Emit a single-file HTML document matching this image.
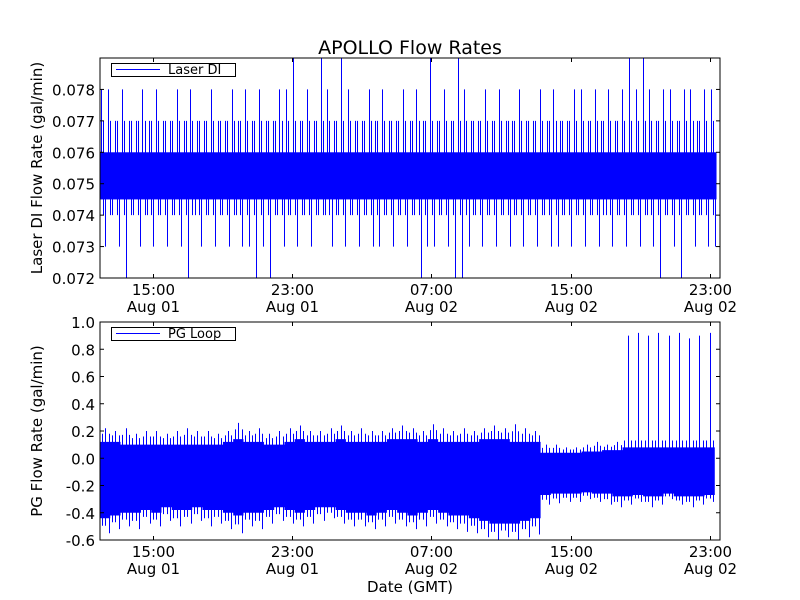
<!DOCTYPE html>
<html><head><meta charset="utf-8"><style>
body{margin:0;background:#fff}
svg{display:block;font-family:"DejaVu Sans","Liberation Sans",sans-serif}
</style></head><body>
<svg id="chart" width="800" height="600" viewBox="0 0 800 600" xmlns="http://www.w3.org/2000/svg">
<rect width="800" height="600" fill="#fff"/>
<text x="410" y="54" font-size="19" text-anchor="middle">APOLLO Flow Rates</text>
<text x="410" y="592" font-size="15" text-anchor="middle">Date (GMT)</text>
<g id="top"></g><g id="bot"></g>
</svg>
<script>
// time range (hours since Aug 01 00:00)
const tStart = 11.95, tEnd = 47.58;
const xTickHours = [15, 23, 31, 39, 47];
const xTickTimes = ["15:00","23:00","07:00","15:00","23:00"];
const xTickDates = ["Aug 01","Aug 01","Aug 02","Aug 02","Aug 02"];
// top panel: Laser DI — per-bin spike max / min (90 bins)
const laserHi = [0.078,0.078,0.077,0.078,0.077,0.077,0.078,0.077,0.078,0.077,0.077,0.078,0.077,0.078,0.077,0.077,0.078,0.077,0.077,0.078,0.077,0.078,0.077,0.078,0.077,0.077,0.078,0.078,0.079,0.077,0.078,0.077,0.079,0.078,0.077,0.079,0.078,0.077,0.077,0.078,0.077,0.078,0.077,0.077,0.078,0.077,0.078,0.077,0.079,0.077,0.078,0.077,0.079,0.078,0.077,0.077,0.078,0.077,0.078,0.077,0.077,0.078,0.077,0.077,0.078,0.077,0.078,0.077,0.077,0.078,0.078,0.077,0.078,0.077,0.078,0.077,0.078,0.079,0.078,0.079,0.078,0.077,0.078,0.078,0.077,0.078,0.078,0.077,0.078,0.078];
const laserLo = [0.073,0.074,0.073,0.072,0.074,0.073,0.074,0.073,0.074,0.073,0.074,0.073,0.072,0.074,0.073,0.074,0.073,0.074,0.073,0.074,0.073,0.073,0.072,0.073,0.072,0.074,0.073,0.074,0.073,0.074,0.073,0.074,0.074,0.073,0.074,0.073,0.074,0.073,0.074,0.073,0.073,0.074,0.073,0.074,0.073,0.074,0.072,0.073,0.073,0.074,0.073,0.072,0.072,0.073,0.074,0.073,0.074,0.073,0.074,0.073,0.074,0.073,0.074,0.073,0.074,0.073,0.073,0.074,0.073,0.074,0.073,0.074,0.073,0.074,0.073,0.074,0.073,0.074,0.073,0.074,0.073,0.072,0.074,0.073,0.072,0.074,0.073,0.074,0.073,0.073];
const laserBand = [0.0745, 0.0760];
// bottom panel: PG Loop — per-bin spike max / min and dense band (60 bins)
const pgHi = [0.22,0.2,0.22,0.18,0.2,0.2,0.18,0.2,0.22,0.2,0.2,0.18,0.2,0.26,0.2,0.22,0.18,0.2,0.22,0.24,0.2,0.2,0.22,0.24,0.2,0.22,0.2,0.2,0.22,0.24,0.22,0.2,0.25,0.22,0.2,0.22,0.2,0.22,0.24,0.22,0.25,0.22,0.2,0.1,0.1,0.08,0.08,0.1,0.12,0.1,0.12,0.9,0.92,0.9,0.92,0.9,0.92,0.88,0.9,0.92];
const pgLo = [-0.55,-0.52,-0.5,-0.52,-0.48,-0.5,-0.46,-0.5,-0.48,-0.46,-0.5,-0.48,-0.52,-0.55,-0.5,-0.52,-0.48,-0.46,-0.48,-0.5,-0.48,-0.46,-0.44,-0.48,-0.5,-0.5,-0.52,-0.5,-0.48,-0.5,-0.52,-0.5,-0.48,-0.5,-0.52,-0.54,-0.55,-0.58,-0.6,-0.58,-0.6,-0.58,-0.56,-0.34,-0.33,-0.32,-0.32,-0.3,-0.32,-0.34,-0.36,-0.34,-0.32,-0.36,-0.34,-0.3,-0.34,-0.36,-0.34,-0.32];
const pgBandHi = [0.12,0.12,0.1,0.1,0.1,0.1,0.1,0.1,0.1,0.1,0.1,0.1,0.12,0.14,0.12,0.12,0.1,0.1,0.12,0.14,0.12,0.12,0.12,0.14,0.12,0.12,0.12,0.12,0.14,0.14,0.14,0.12,0.14,0.12,0.12,0.12,0.12,0.14,0.14,0.14,0.12,0.12,0.12,0.04,0.04,0.04,0.04,0.05,0.05,0.06,0.06,0.08,0.08,0.08,0.08,0.08,0.08,0.08,0.08,0.08];
const pgBandLo = [-0.44,-0.42,-0.4,-0.4,-0.38,-0.4,-0.36,-0.38,-0.38,-0.36,-0.38,-0.38,-0.4,-0.42,-0.4,-0.4,-0.38,-0.36,-0.38,-0.4,-0.38,-0.36,-0.36,-0.38,-0.4,-0.4,-0.42,-0.4,-0.38,-0.4,-0.42,-0.4,-0.38,-0.4,-0.42,-0.42,-0.44,-0.46,-0.48,-0.48,-0.48,-0.46,-0.44,-0.27,-0.26,-0.26,-0.26,-0.25,-0.26,-0.26,-0.28,-0.28,-0.27,-0.28,-0.28,-0.26,-0.28,-0.28,-0.28,-0.27];
const topYTicks = [0.072,0.073,0.074,0.075,0.076,0.077,0.078];
const botYTicks = [-0.6,-0.4,-0.2,0.0,0.2,0.4,0.6,0.8,1.0];

const NS = "http://www.w3.org/2000/svg";
const L = 100, R = 720;
const xS = h => L + (h - tStart) / (tEnd - tStart) * (R - L);
const px = x => Math.round(x) + 0.5;
function el(parent, tag, attrs, text){
  const e = document.createElementNS(NS, tag);
  for (const k in attrs) e.setAttribute(k, attrs[k]);
  if (text !== undefined) e.textContent = text;
  parent.appendChild(e); return e;
}
function panel(g, top, bot, yMin, yMax, yTicks, fmt, ylabel, legend, drawData){
  const yS = v => bot - (v - yMin) / (yMax - yMin) * (bot - top);
  const clipId = "clip" + top;
  const cp = el(g, "clipPath", {id: clipId});
  el(cp, "rect", {x: L, y: top, width: R - L, height: bot - top});
  const dg = el(g, "g", {"clip-path": "url(#" + clipId + ")"});
  
  
  drawData(dg, yS);
  const frame = el(g, "rect", {x: L, y: top, width: R - L, height: bot - top, fill: "none", stroke: "#000", "stroke-width": 1});
  
  
  yTicks.forEach(v => {
    const y = yS(v);
    el(g, "line", {x1: L, x2: L + 4, y1: y, y2: y, stroke: "#000"});
    el(g, "line", {x1: R, x2: R - 4, y1: y, y2: y, stroke: "#000"});
    const t = el(g, "text", {x: L - 5, y: y + 6, "font-size": 15, "text-anchor": "end"}, fmt(v));
    
    
  });
  xTickHours.forEach((h, i) => {
    const x = px(xS(h));
    el(g, "line", {x1: x, x2: x, y1: bot, y2: bot - 4, stroke: "#000"});
    el(g, "line", {x1: x, x2: x, y1: top, y2: top + 4, stroke: "#000"});
    const t1 = el(g, "text", {x: x, y: bot + 17, "font-size": 15, "text-anchor": "middle"}, xTickTimes[i]);
    
    
    const t2 = el(g, "text", {x: x, y: bot + 34, "font-size": 15, "text-anchor": "middle"}, xTickDates[i]);
    
    
  });
  const cy = (top + bot) / 2;
  const yl = el(g, "text", {x: 0, y: 0, "font-size": 15, "text-anchor": "middle", transform: "translate(42," + cy + ") rotate(-90)"}, ylabel);
  
  
  const lg = el(g, "g", {});
  
  
  el(lg, "rect", {x: 111.5, y: top + 5.5, width: 124, height: 13, fill: "#fff", stroke: "#000"});
  el(lg, "line", {x1: 116, x2: 160, y1: top + 11.5, y2: top + 11.5, stroke: "#0000ff"});
  const lt = el(lg, "text", {x: 168, y: top + 16, "font-size": 13}, legend);
  
  
}
// top
panel(document.getElementById("top"), 58, 278, 0.072, 0.079, topYTicks, v => v.toFixed(3),
  "Laser DI Flow Rate (gal/min)", "Laser DI", (g, yS) => {
  const n = laserHi.length, dt = (tEnd - 0.2 - tStart) / n;
  el(g, "rect", {x: xS(tStart), y: yS(laserBand[1]), width: xS(tStart + n*dt) - xS(tStart), height: yS(laserBand[0]) - yS(laserBand[1]), fill: "#0000ff"});
  for (let i = 0; i < n; i++) {
    const t0 = tStart + i * dt;
    const xa = px(xS(t0 + dt * 0.2)), xb = px(xS(t0 + dt * 0.8)), xc = px(xS(t0 + dt * 0.5));
    const l1 = el(g, "line", {x1: xa, x2: xa, y1: yS(laserHi[i]), y2: yS(0.075), stroke: "#0000ff", "stroke-width": 1});
    
    const l2 = el(g, "line", {x1: xb, x2: xb, y1: yS(laserLo[i]), y2: yS(0.0755), stroke: "#0000ff", "stroke-width": 1});
    
    el(g, "line", {x1: xc, x2: xc, y1: yS(0.077), y2: yS(0.074), stroke: "#0000ff", "stroke-width": 1});
  }
});
// bottom
panel(document.getElementById("bot"), 322, 540, -0.6, 1.0, botYTicks, v => v.toFixed(1),
  "PG Flow Rate (gal/min)", "PG Loop", (g, yS) => {
  const n = pgHi.length, dt = (tEnd - 0.3 - tStart) / n;
  let up = "", dn = "";
  for (let i = 0; i < n; i++) {
    const t0 = tStart + i * dt;
    up += (i ? "L" : "M") + xS(t0) + "," + yS(pgBandHi[i]) + "L" + xS(t0 + dt) + "," + yS(pgBandHi[i]);
  }
  for (let i = n - 1; i >= 0; i--) {
    const t0 = tStart + i * dt;
    dn += "L" + xS(t0 + dt) + "," + yS(pgBandLo[i]) + "L" + xS(t0) + "," + yS(pgBandLo[i]);
  }
  el(g, "path", {d: up + dn + "Z", fill: "#0000ff"});
  for (let i = 0; i < n; i++) {
    const t0 = tStart + i * dt;
    for (let k = 0; k < 3; k++) {
      const x = px(xS(t0 + dt * (k + 0.5) / 3));
      const hiV = k === 1 ? pgHi[i] : pgBandHi[i] + (pgHi[i] > 0.5 ? 0.05 : (pgHi[i] - pgBandHi[i]) * 0.6);
      const loV = k === 2 ? pgLo[i] : pgBandLo[i] - (pgBandLo[i] - pgLo[i]) * 0.5;
      const sp = el(g, "line", {x1: x, x2: x, y1: yS(hiV), y2: yS(loV), stroke: "#0000ff", "stroke-width": 1});
      
    }
  }
});
</script>
</body></html>
